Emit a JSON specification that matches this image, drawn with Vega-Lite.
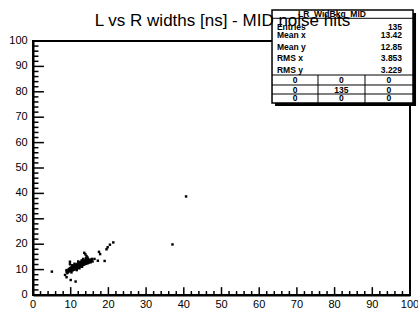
{
  "$schema": "https://vega.github.io/schema/vega-lite/v6.json",
  "width": 377,
  "height": 254,
  "autosize": "none",
  "padding": {"left": 33, "top": 41, "right": 8, "bottom": 15},
  "background": "white",
  "title": {"text": "L vs R widths [ns] - MID noise hits", "font": "Liberation Sans", "fontSize": 17, "fontWeight": "normal", "color": "black", "anchor": "middle", "baseline": "alphabetic", "offset": -33.7, "dx": 1},
  "config": {
    "view": {"stroke": "black", "strokeWidth": 2},
    "axis": {"labels": false, "grid": false, "ticks": false, "title": null, "domainColor": "black", "domainWidth": 2},
    "text": {"font": "Liberation Sans", "fontWeight": "bold", "fontSize": 8.5, "baseline": "middle", "color": "black"},
    "rule": {"color": "black", "strokeWidth": 1}
  },
  "datasets": {
    "points": [
      {"x": 5.0, "y": 9.2}, {"x": 8.5, "y": 7.9}, {"x": 8.9, "y": 7.0}, {"x": 10.0, "y": 5.9}, {"x": 11.3, "y": 5.3},
      {"x": 8.9, "y": 9.8}, {"x": 9.8, "y": 12.1}, {"x": 9.8, "y": 13.1}, {"x": 8.9, "y": 9.2}, {"x": 9.1, "y": 8.6},
      {"x": 13.6, "y": 16.6}, {"x": 13.9, "y": 16.0}, {"x": 14.2, "y": 15.3}, {"x": 14.5, "y": 14.7},
      {"x": 16.3, "y": 14.2}, {"x": 17.2, "y": 13.5}, {"x": 19.0, "y": 13.4}, {"x": 17.5, "y": 17.0}, {"x": 17.8, "y": 16.1},
      {"x": 19.5, "y": 18.0}, {"x": 19.8, "y": 18.8}, {"x": 20.4, "y": 19.8}, {"x": 21.3, "y": 20.7},
      {"x": 37.0, "y": 19.9}, {"x": 40.6, "y": 38.8},
      {"x": 9.3, "y": 9.0}, {"x": 9.4, "y": 9.6}, {"x": 9.5, "y": 10.2}, {"x": 9.7, "y": 9.3}, {"x": 9.8, "y": 10.6}, {"x": 9.9, "y": 9.8},
      {"x": 10.0, "y": 10.3}, {"x": 10.1, "y": 9.5}, {"x": 10.2, "y": 11.0}, {"x": 10.3, "y": 10.0}, {"x": 10.4, "y": 10.6}, {"x": 10.5, "y": 9.7},
      {"x": 10.6, "y": 11.2}, {"x": 10.7, "y": 10.3}, {"x": 10.8, "y": 10.9}, {"x": 10.9, "y": 10.0}, {"x": 10.9, "y": 11.6},
      {"x": 11.0, "y": 10.6}, {"x": 11.1, "y": 11.3}, {"x": 11.2, "y": 10.2}, {"x": 11.3, "y": 11.8}, {"x": 11.4, "y": 10.8}, {"x": 11.5, "y": 11.4},
      {"x": 11.5, "y": 10.4}, {"x": 11.6, "y": 12.1}, {"x": 11.7, "y": 11.0}, {"x": 11.8, "y": 11.6}, {"x": 11.9, "y": 10.7}, {"x": 11.9, "y": 12.4},
      {"x": 12.0, "y": 11.3}, {"x": 12.1, "y": 11.9}, {"x": 12.2, "y": 10.9}, {"x": 12.2, "y": 12.6}, {"x": 12.3, "y": 11.5}, {"x": 12.4, "y": 12.1},
      {"x": 12.5, "y": 11.2}, {"x": 12.5, "y": 12.8}, {"x": 12.6, "y": 11.8}, {"x": 12.7, "y": 12.4}, {"x": 12.8, "y": 11.5}, {"x": 12.8, "y": 13.0}, {"x": 12.9, "y": 12.0},
      {"x": 13.0, "y": 12.6}, {"x": 13.1, "y": 11.7}, {"x": 13.1, "y": 13.2}, {"x": 13.2, "y": 12.2}, {"x": 13.3, "y": 12.8}, {"x": 13.4, "y": 11.9},
      {"x": 13.5, "y": 13.4}, {"x": 13.5, "y": 12.4}, {"x": 13.6, "y": 13.0}, {"x": 13.7, "y": 12.1}, {"x": 13.8, "y": 13.6}, {"x": 13.9, "y": 12.6},
      {"x": 14.0, "y": 13.2}, {"x": 14.1, "y": 12.3}, {"x": 14.2, "y": 13.8}, {"x": 14.3, "y": 12.8}, {"x": 14.4, "y": 13.4}, {"x": 14.5, "y": 12.5},
      {"x": 14.6, "y": 14.0}, {"x": 14.7, "y": 13.0}, {"x": 14.8, "y": 13.6}, {"x": 14.9, "y": 12.8},
      {"x": 15.0, "y": 13.3}, {"x": 15.2, "y": 13.9}, {"x": 15.3, "y": 12.9}, {"x": 15.5, "y": 13.5}, {"x": 15.6, "y": 14.2}, {"x": 15.8, "y": 13.2},
      {"x": 10.4, "y": 11.7}, {"x": 11.0, "y": 12.3}, {"x": 12.0, "y": 13.2}, {"x": 12.9, "y": 13.6}, {"x": 13.3, "y": 14.2},
      {"x": 11.6, "y": 9.8}, {"x": 12.3, "y": 10.5}, {"x": 13.0, "y": 11.1}, {"x": 10.2, "y": 8.9}, {"x": 14.0, "y": 14.4}
    ],
    "majorTicks": [{"v": 0}, {"v": 10}, {"v": 20}, {"v": 30}, {"v": 40}, {"v": 50}, {"v": 60}, {"v": 70}, {"v": 80}, {"v": 90}, {"v": 100}],
    "minorTicks": [{"v": 2}, {"v": 4}, {"v": 6}, {"v": 8}, {"v": 12}, {"v": 14}, {"v": 16}, {"v": 18}, {"v": 22}, {"v": 24}, {"v": 26}, {"v": 28}, {"v": 32}, {"v": 34}, {"v": 36}, {"v": 38}, {"v": 42}, {"v": 44}, {"v": 46}, {"v": 48}, {"v": 52}, {"v": 54}, {"v": 56}, {"v": 58}, {"v": 62}, {"v": 64}, {"v": 66}, {"v": 68}, {"v": 72}, {"v": 74}, {"v": 76}, {"v": 78}, {"v": 82}, {"v": 84}, {"v": 86}, {"v": 88}, {"v": 92}, {"v": 94}, {"v": 96}, {"v": 98}],
    "stats": [
      {"stat": "Entries", "value": "135"},
      {"stat": "Mean x", "value": "13.42"},
      {"stat": "Mean y", "value": "12.85"},
      {"stat": "RMS x", "value": "3.853"},
      {"stat": "RMS y", "value": "3.229"}
    ],
    "cells": [
      {"r": 1, "c": 1, "n": 0}, {"r": 1, "c": 2, "n": 0}, {"r": 1, "c": 3, "n": 0},
      {"r": 2, "c": 1, "n": 0}, {"r": 2, "c": 2, "n": 135}, {"r": 2, "c": 3, "n": 0},
      {"r": 3, "c": 1, "n": 0}, {"r": 3, "c": 2, "n": 0}, {"r": 3, "c": 3, "n": 0}
    ]
  },
  "layer": [
    {
      "data": {"name": "points"},
      "mark": {"type": "point", "shape": "square", "filled": true, "size": 6, "color": "black", "opacity": 1},
      "encoding": {
        "x": {"field": "x", "type": "quantitative", "scale": {"domain": [0, 100], "nice": false, "zero": false}},
        "y": {"field": "y", "type": "quantitative", "scale": {"domain": [0, 100], "nice": false, "zero": false}}
      }
    },
    {
      "data": {"name": "majorTicks"},
      "mark": {"type": "rule", "strokeWidth": 1.5},
      "encoding": {"x": {"field": "v", "type": "quantitative"}, "y": {"datum": 0, "type": "quantitative"}, "y2": {"datum": 3.1}}
    },
    {
      "data": {"name": "minorTicks"},
      "mark": {"type": "rule", "strokeWidth": 1.5},
      "encoding": {"x": {"field": "v", "type": "quantitative"}, "y": {"datum": 0, "type": "quantitative"}, "y2": {"datum": 1.55}}
    },
    {
      "data": {"name": "majorTicks"},
      "mark": {"type": "rule", "strokeWidth": 1.5},
      "encoding": {"y": {"field": "v", "type": "quantitative"}, "x": {"datum": 0, "type": "quantitative"}, "x2": {"datum": 2.9}}
    },
    {
      "data": {"name": "minorTicks"},
      "mark": {"type": "rule", "strokeWidth": 1.5},
      "encoding": {"y": {"field": "v", "type": "quantitative"}, "x": {"datum": 0, "type": "quantitative"}, "x2": {"datum": 1.45}}
    },
    {
      "data": {"name": "majorTicks"},
      "mark": {"type": "text", "fontWeight": "normal", "fontSize": 11, "align": "center"},
      "encoding": {"x": {"field": "v", "type": "quantitative"}, "y": {"datum": -3.8, "type": "quantitative"}, "text": {"field": "v"}}
    },
    {
      "data": {"name": "majorTicks"},
      "mark": {"type": "text", "fontWeight": "normal", "fontSize": 11, "align": "right"},
      "encoding": {"y": {"field": "v", "type": "quantitative"}, "x": {"datum": -1.4, "type": "quantitative"}, "text": {"field": "v"}}
    },
    {
      "data": {"values": [{}]},
      "mark": {"type": "rect", "color": "black"},
      "encoding": {
        "x": {"datum": 64.2, "type": "quantitative"}, "x2": {"datum": 101.6},
        "y": {"datum": 111.0, "type": "quantitative"}, "y2": {"datum": 74.4}
      }
    },
    {
      "data": {"values": [{}]},
      "mark": {"type": "rect", "fill": "white", "stroke": "black", "strokeWidth": 1.5},
      "encoding": {
        "x": {"datum": 63.4, "type": "quantitative"}, "x2": {"datum": 100.8},
        "y": {"datum": 112.2, "type": "quantitative"}, "y2": {"datum": 75.6}
      }
    },
    {
      "data": {"values": [{"yy": 108.94}, {"yy": 86.61}, {"yy": 82.68}, {"yy": 79.13}]},
      "mark": {"type": "rule"},
      "encoding": {
        "x": {"datum": 63.4, "type": "quantitative"}, "x2": {"datum": 100.8},
        "y": {"field": "yy", "type": "quantitative"}
      }
    },
    {
      "data": {"values": [{"xx": 75.6}, {"xx": 88.06}]},
      "mark": {"type": "rule"},
      "encoding": {
        "x": {"field": "xx", "type": "quantitative"},
        "y": {"datum": 86.61, "type": "quantitative"}, "y2": {"datum": 75.6}
      }
    },
    {
      "data": {"values": [{}]},
      "mark": {"type": "text", "text": "LR_WidBkg_MID", "align": "center"},
      "encoding": {"x": {"datum": 79.3, "type": "quantitative"}, "y": {"datum": 110.6, "type": "quantitative"}}
    },
    {"data": {"name": "stats"}, "transform": [{"filter": "datum.stat === 'Entries'"}],
     "layer": [
       {"mark": {"type": "text", "align": "left"}, "encoding": {"x": {"datum": 64.7, "type": "quantitative"}, "y": {"datum": 105.6, "type": "quantitative"}, "text": {"field": "stat"}}},
       {"mark": {"type": "text", "align": "right"}, "encoding": {"x": {"datum": 97.9, "type": "quantitative"}, "y": {"datum": 105.6, "type": "quantitative"}, "text": {"field": "value"}}}
     ]},
    {"data": {"name": "stats"}, "transform": [{"filter": "datum.stat === 'Mean x'"}],
     "layer": [
       {"mark": {"type": "text", "align": "left"}, "encoding": {"x": {"datum": 64.7, "type": "quantitative"}, "y": {"datum": 102.4, "type": "quantitative"}, "text": {"field": "stat"}}},
       {"mark": {"type": "text", "align": "right"}, "encoding": {"x": {"datum": 97.9, "type": "quantitative"}, "y": {"datum": 102.4, "type": "quantitative"}, "text": {"field": "value"}}}
     ]},
    {"data": {"name": "stats"}, "transform": [{"filter": "datum.stat === 'Mean y'"}],
     "layer": [
       {"mark": {"type": "text", "align": "left"}, "encoding": {"x": {"datum": 64.7, "type": "quantitative"}, "y": {"datum": 97.6, "type": "quantitative"}, "text": {"field": "stat"}}},
       {"mark": {"type": "text", "align": "right"}, "encoding": {"x": {"datum": 97.9, "type": "quantitative"}, "y": {"datum": 97.6, "type": "quantitative"}, "text": {"field": "value"}}}
     ]},
    {"data": {"name": "stats"}, "transform": [{"filter": "datum.stat === 'RMS x'"}],
     "layer": [
       {"mark": {"type": "text", "align": "left"}, "encoding": {"x": {"datum": 64.7, "type": "quantitative"}, "y": {"datum": 93.2, "type": "quantitative"}, "text": {"field": "stat"}}},
       {"mark": {"type": "text", "align": "right"}, "encoding": {"x": {"datum": 97.9, "type": "quantitative"}, "y": {"datum": 93.2, "type": "quantitative"}, "text": {"field": "value"}}}
     ]},
    {"data": {"name": "stats"}, "transform": [{"filter": "datum.stat === 'RMS y'"}],
     "layer": [
       {"mark": {"type": "text", "align": "left"}, "encoding": {"x": {"datum": 64.7, "type": "quantitative"}, "y": {"datum": 88.6, "type": "quantitative"}, "text": {"field": "stat"}}},
       {"mark": {"type": "text", "align": "right"}, "encoding": {"x": {"datum": 97.9, "type": "quantitative"}, "y": {"datum": 88.6, "type": "quantitative"}, "text": {"field": "value"}}}
     ]},
    {"data": {"name": "cells"}, "transform": [{"filter": "datum.r === 1 && datum.c === 1"}], "mark": {"type": "text", "align": "center"},
     "encoding": {"x": {"datum": 69.5, "type": "quantitative"}, "y": {"datum": 84.8, "type": "quantitative"}, "text": {"field": "n"}}},
    {"data": {"name": "cells"}, "transform": [{"filter": "datum.r === 1 && datum.c === 2"}], "mark": {"type": "text", "align": "center"},
     "encoding": {"x": {"datum": 81.8, "type": "quantitative"}, "y": {"datum": 84.8, "type": "quantitative"}, "text": {"field": "n"}}},
    {"data": {"name": "cells"}, "transform": [{"filter": "datum.r === 1 && datum.c === 3"}], "mark": {"type": "text", "align": "center"},
     "encoding": {"x": {"datum": 94.4, "type": "quantitative"}, "y": {"datum": 84.8, "type": "quantitative"}, "text": {"field": "n"}}},
    {"data": {"name": "cells"}, "transform": [{"filter": "datum.r === 2 && datum.c === 1"}], "mark": {"type": "text", "align": "center"},
     "encoding": {"x": {"datum": 69.5, "type": "quantitative"}, "y": {"datum": 80.9, "type": "quantitative"}, "text": {"field": "n"}}},
    {"data": {"name": "cells"}, "transform": [{"filter": "datum.r === 2 && datum.c === 2"}], "mark": {"type": "text", "align": "center"},
     "encoding": {"x": {"datum": 81.8, "type": "quantitative"}, "y": {"datum": 80.9, "type": "quantitative"}, "text": {"field": "n"}}},
    {"data": {"name": "cells"}, "transform": [{"filter": "datum.r === 2 && datum.c === 3"}], "mark": {"type": "text", "align": "center"},
     "encoding": {"x": {"datum": 94.4, "type": "quantitative"}, "y": {"datum": 80.9, "type": "quantitative"}, "text": {"field": "n"}}},
    {"data": {"name": "cells"}, "transform": [{"filter": "datum.r === 3 && datum.c === 1"}], "mark": {"type": "text", "align": "center"},
     "encoding": {"x": {"datum": 69.5, "type": "quantitative"}, "y": {"datum": 77.4, "type": "quantitative"}, "text": {"field": "n"}}},
    {"data": {"name": "cells"}, "transform": [{"filter": "datum.r === 3 && datum.c === 2"}], "mark": {"type": "text", "align": "center"},
     "encoding": {"x": {"datum": 81.8, "type": "quantitative"}, "y": {"datum": 77.4, "type": "quantitative"}, "text": {"field": "n"}}},
    {"data": {"name": "cells"}, "transform": [{"filter": "datum.r === 3 && datum.c === 3"}], "mark": {"type": "text", "align": "center"},
     "encoding": {"x": {"datum": 94.4, "type": "quantitative"}, "y": {"datum": 77.4, "type": "quantitative"}, "text": {"field": "n"}}}
  ]
}
